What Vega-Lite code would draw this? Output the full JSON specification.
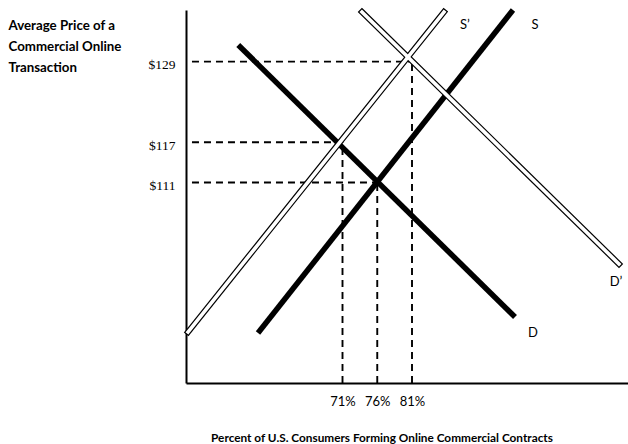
{
  "$schema": "https://vega.github.io/schema/vega-lite/v6.json",
  "width": 442,
  "height": 373,
  "autosize": {"type": "none"},
  "padding": {"left": 186, "top": 10, "right": 0, "bottom": 61},
  "background": "white",
  "config": {"view": {"stroke": null}},
  "datasets": {
    "guides": [
      {"x": 49.34, "x2": 81, "y": 129, "y2": 129},
      {"x": 49.34, "x2": 71, "y": 117, "y2": 117},
      {"x": 49.34, "x2": 76, "y": 111, "y2": 111},
      {"x": 81, "x2": 81, "y": 81.11, "y2": 129},
      {"x": 71, "x2": 71, "y": 81.11, "y2": 117},
      {"x": 76, "x2": 76, "y": 81.11, "y2": 111}
    ],
    "curves": [
      {"curve": "D", "kind": "solid", "x": 56.0, "y": 131.48, "x2": 95.82, "y2": 90.95},
      {"curve": "S", "kind": "solid", "x": 58.84, "y": 88.56, "x2": 95.53, "y2": 136.7},
      {"curve": "S’", "kind": "hollow", "x": 48.77, "y": 88.71, "x2": 85.6, "y2": 136.4},
      {"curve": "D’", "kind": "hollow", "x": 73.8, "y": 136.4, "x2": 110.78, "y2": 98.85}
    ],
    "labels": [
      {"label": "S’", "x": 88.62, "y": 134.46, "align": "center"},
      {"label": "S", "x": 98.7, "y": 134.46, "align": "center"},
      {"label": "D", "x": 98.41, "y": 88.56, "align": "center"},
      {"label": "D’", "x": 110.35, "y": 96.16, "align": "left"}
    ]
  },
  "encoding": {
    "x": {
      "field": "x", "type": "quantitative",
      "scale": {"domain": [48.48, 112.08], "nice": false, "zero": false}
    },
    "y": {
      "field": "y", "type": "quantitative",
      "scale": {"domain": [81.11, 136.7], "nice": false, "zero": false}
    }
  },
  "layer": [
    {
      "data": {"name": "guides"},
      "mark": {"type": "rule", "color": "black", "strokeWidth": 1.9, "strokeDash": [7, 5]},
      "encoding": {
        "x": {
          "field": "x", "type": "quantitative",
          "scale": {"domain": [48.48, 112.08], "nice": false, "zero": false},
          "axis": {
            "values": [71, 76, 81],
            "labelExpr": "datum.value + '%'",
            "title": "Percent of U.S. Consumers Forming Online Commercial Contracts",
            "titleFont": "Lato", "titleFontSize": 11.8, "titleFontWeight": "bold", "titleColor": "black",
            "titleX": 195.5, "titleY": 54, "titleBaseline": "middle", "titleAlign": "center",
            "labelFont": "Lato", "labelFontSize": 13, "labelColor": "black",
            "labelPadding": 12, "ticks": false, "grid": false,
            "domainColor": "black", "domainWidth": 2
          }
        },
        "x2": {"field": "x2"},
        "y": {
          "field": "y", "type": "quantitative",
          "scale": {"domain": [81.11, 136.7], "nice": false, "zero": false},
          "axis": {
            "values": [111, 117, 129],
            "labelExpr": "'$' + datum.value",
            "title": ["Average Price of a", "Commercial Online", "Transaction"],
            "titleFont": "Lato", "titleFontSize": 13.3, "titleFontWeight": "bold", "titleColor": "black",
            "titleAngle": 0, "titleX": -178, "titleY": 8, "titleAlign": "left", "titleBaseline": "top",
            "titleLineHeight": 21,
            "labelFont": "Liberation Serif", "labelFontSize": 13.5, "labelColor": "black",
            "labelPadding": 11, "labelOffset": 3, "ticks": false, "grid": false,
            "domainColor": "black", "domainWidth": 2
          }
        },
        "y2": {"field": "y2"}
      }
    },
    {
      "data": {"name": "curves"},
      "transform": [{"filter": "datum.kind === 'solid'"}],
      "mark": {"type": "rule", "color": "black", "strokeWidth": 5.5, "strokeCap": "butt"},
      "encoding": {"x2": {"field": "x2"}, "y2": {"field": "y2"}}
    },
    {
      "data": {"name": "curves"},
      "transform": [{"filter": "datum.kind === 'hollow'"}],
      "mark": {"type": "rule", "color": "black", "strokeWidth": 6, "strokeCap": "square"},
      "encoding": {"x2": {"field": "x2"}, "y2": {"field": "y2"}}
    },
    {
      "data": {"name": "curves"},
      "transform": [{"filter": "datum.kind === 'hollow'"}],
      "mark": {"type": "rule", "color": "white", "strokeWidth": 3.6, "strokeCap": "square"},
      "encoding": {"x2": {"field": "x2"}, "y2": {"field": "y2"}}
    },
    {
      "data": {"name": "labels"},
      "mark": {"type": "text", "font": "Lato", "fontSize": 13, "color": "black", "baseline": "middle"},
      "encoding": {
        "text": {"field": "label"},
        "align": {"field": "align", "type": "nominal", "scale": null}
      }
    }
  ]
}
